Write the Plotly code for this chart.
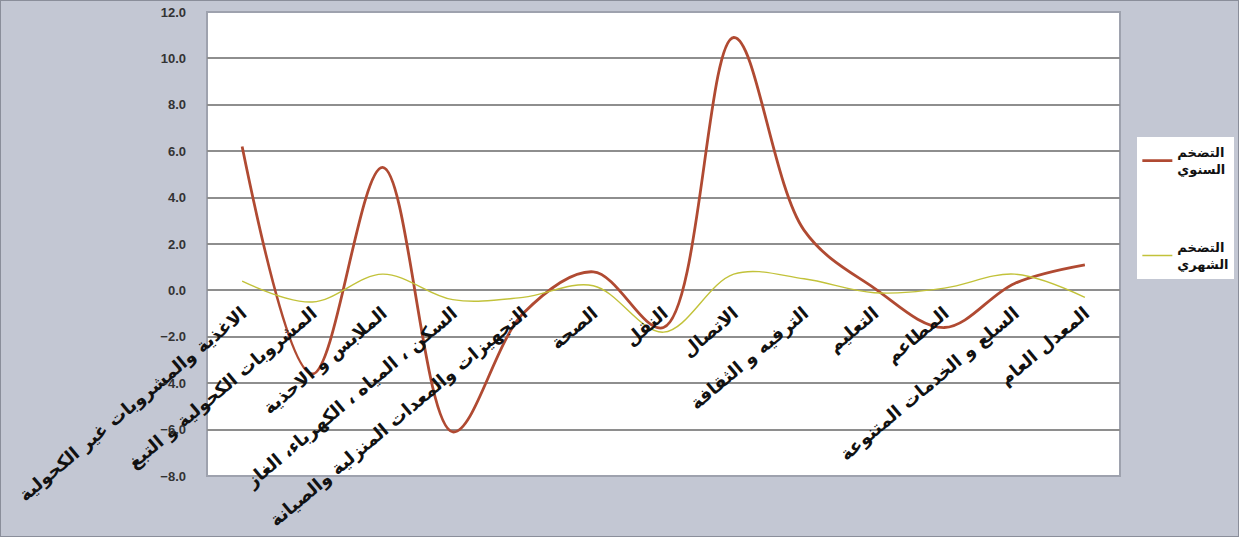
import plotly.graph_objects as go

categories = [
    "الاغذية والمشروبات غير الكحولية",
    "المشروبات الكحولية و التبغ",
    "الملابس و الاحذية",
    "السكن ، المياه ، الكهرباء، الغاز",
    "التجهيزات والمعدات المنزلية والصيانة",
    "الصحة",
    "النقل",
    "الاتصال",
    "الترفيه و الثقافة",
    "التعليم",
    "المطاعم",
    "السلع و الخدمات المتنوعة",
    "المعدل العام",
]
annual = [6.2, -3.6, 5.3, -6.1, -1.0, 0.8, -1.6, 10.9, 2.6, 0.1, -1.6, 0.3, 1.1]
monthly = [0.4, -0.5, 0.7, -0.4, -0.3, 0.2, -1.8, 0.7, 0.5, -0.1, 0.1, 0.7, -0.3]
name_annual = "التضخم<br>السنوي"
name_monthly = "التضخم<br>الشهري"
y_ticks = [-8, -6, -4, -2, 0, 2, 4, 6, 8, 10, 12]

fig = go.Figure()
fig.add_trace(go.Scatter(
    x=categories, y=annual, name=name_annual, mode="lines",
    line=dict(color="#B04A32", width=2.8, shape="spline", smoothing=1.0),
    legendgroup="a",
))
fig.add_trace(go.Scatter(
    x=categories, y=monthly, name=name_monthly, mode="lines",
    line=dict(color="#C2C23A", width=1.4, shape="spline", smoothing=1.0),
    legendgroup="b",
))

fig.update_layout(
    width=1239, height=537,
    margin=dict(l=207, r=119, t=12, b=61, autoexpand=False),
    paper_bgcolor="#C3C7D3",
    plot_bgcolor="#FFFFFF",
    showlegend=True,
    legend=dict(
        x=1.019, xanchor="left", y=0.73, yanchor="top",
        bgcolor="#FFFFFF", borderwidth=0,
        font=dict(family="DejaVu Sans", size=13, color="#111111", weight="bold"),
        tracegroupgap=58, itemwidth=30,
    ),
    xaxis=dict(
        type="category", range=[-0.5, 12.5],
        anchor="free", position=0.4,
        showgrid=False, showline=False, zeroline=False, ticks="",
        tickangle=-40, ticklabelstandoff=8,
        tickfont=dict(family="DejaVu Sans", size=18, color="#111111", weight="bold"),
        automargin=False,
    ),
    yaxis=dict(
        range=[-8, 12], tickvals=y_ticks, tickformat=".1f",
        showgrid=True, gridcolor="#8E8E8E", gridwidth=1.6,
        zeroline=False, showline=False, ticks="",
        ticklabelstandoff=20,
        tickfont=dict(family="Liberation Sans", size=13, color="#333333", weight="bold"),
        automargin=False,
    ),
    shapes=[
        dict(type="rect", xref="x domain", yref="y domain", x0=0, x1=1, y0=0, y1=1,
             line=dict(color="#9EA2AE", width=2), layer="below"),
        dict(type="rect", xref="paper", yref="paper", x0=-207/913, x1=1 + 119/913,
             y0=-61/464, y1=1 + 12/464, line=dict(color="#8A8E9A", width=2)),
    ],
)

fig.write_html("out.html", config={"displayModeBar": False},
               post_script="document.body.style.margin='0px';")
